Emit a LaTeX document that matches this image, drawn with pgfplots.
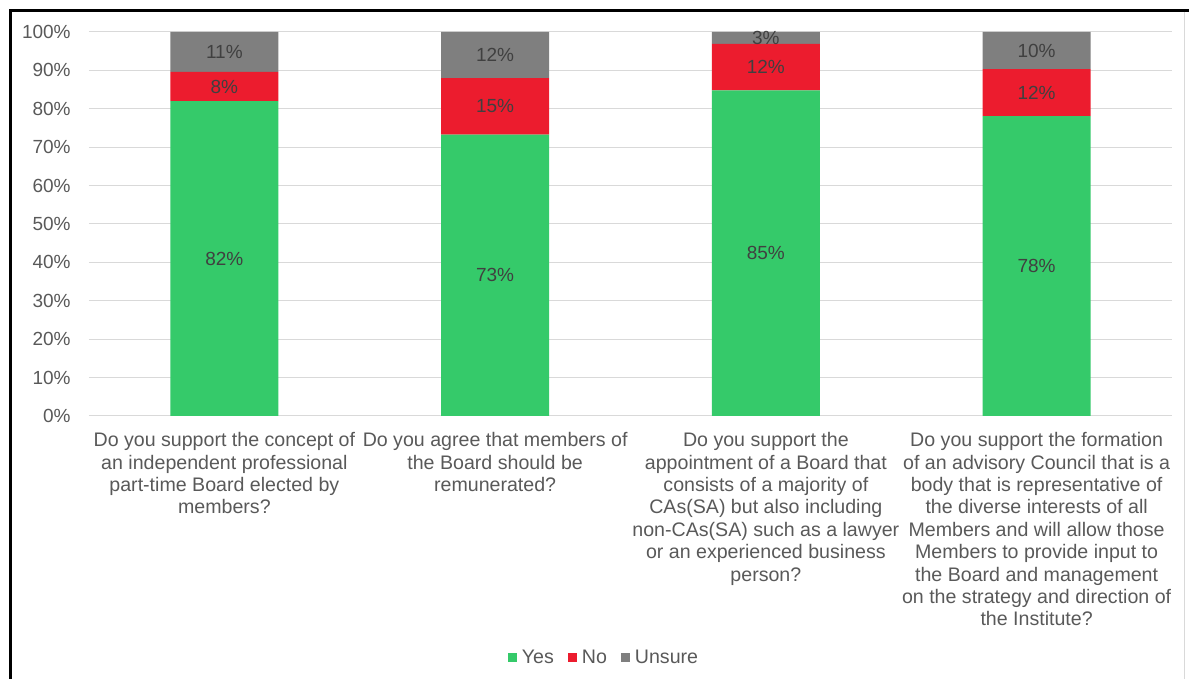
\documentclass[border=0pt]{standalone}
\usepackage{pgfplots}
\pgfplotsset{compat=1.18}
\usepackage{fontspec}
\setmainfont{Liberation Sans}
\definecolor{cyes}{RGB}{53,202,106}
\definecolor{cno}{RGB}{236,28,46}
\definecolor{cuns}{RGB}{127,127,127}
\definecolor{labelgray}{RGB}{89,89,89}
\definecolor{valgray}{RGB}{64,64,64}
\definecolor{gridgray}{RGB}{217,217,217}
\pgfplotstableread{
x yes no uns
0 82.0 7.6 10.4
1 73.3 14.7 12.0
2 84.8 12.1 3.1
3 78.1 12.2 9.7
}\bardata
\pgfplotstableread{
x y label
0 41.0 82\%
1 36.65 73\%
2 42.4 85\%
3 39.05 78\%
0 85.8 8\%
1 80.65 15\%
2 90.85 12\%
3 84.2 12\%
0 94.8 11\%
1 94.0 12\%
2 98.45 3\%
3 95.15 10\%
}\labeldata
\pgfplotsset{
  mylegend/.style={legend image code/.code={\fill[##1,draw=none] (0pt,-2.25pt) rectangle (4.5pt,2.25pt);}},
  common/.style={
    scale only axis, width=541.5pt, height=192pt,
    xmin=-0.5, xmax=3.5, ymin=0, ymax=100,
  }
}
\begin{document}
\begin{tikzpicture}
\useasboundingbox (-44.5pt,-131.5pt) rectangle (550pt,208pt);
\draw[line width=1.5pt, black] (-39.25pt,-131.5pt) -- (-39.25pt,202.75pt) -- (550pt,202.75pt);
\draw[line width=0.5pt, gridgray] (547.5pt,202pt) -- (547.5pt,-131.5pt);
\begin{axis}[common,
  ybar stacked, bar width=54pt,
  axis line style={draw=none},
  major tick length=0pt,
  ymajorgrids, grid style={gridgray, line width=0.5pt},
  extra y ticks={0}, extra y tick labels={}, extra y tick style={grid=major},
  xtick={0,1,2,3},
  xticklabels={
    {Do you support the concept of\\an independent professional\\part-time Board elected by\\members?},
    {Do you agree that members of\\the Board should be\\remunerated?},
    {Do you support the\\appointment of a Board that\\consists of a majority of\\CAs(SA) but also including\\non-CAs(SA) such as a lawyer\\or an experienced business\\person?},
    {Do you support the formation\\of an advisory Council that is a\\body that is representative of\\the diverse interests of all\\Members and will allow those\\Members to provide input to\\the Board and management\\on the strategy and direction of\\the Institute?}
  },
  xticklabel style={align=center, font=\fontsize{9.8}{11.2}\selectfont, text=labelgray, anchor=north, inner sep=0pt, yshift=-8pt},
  ytick={0,10,...,100},
  yticklabels={0\%,10\%,20\%,30\%,40\%,50\%,60\%,70\%,80\%,90\%,100\%},
  yticklabel style={font=\fontsize{9.5}{11}\selectfont, text=labelgray, anchor=east, inner sep=0pt, xshift=-9pt},
  legend style={at={(axis description cs:0.4746,-0.630)}, anchor=center, draw=none, fill=none,
    legend columns=3, font=\fontsize{9.8}{11}\selectfont, text=labelgray,
    nodes={inner sep=0pt, anchor=west},
    /tikz/every odd column/.append style={column sep=2.5pt},
    /tikz/every even column/.append style={column sep=7pt}},
]
\addplot[fill=cyes, draw=none, mylegend] table[x=x, y=yes] {\bardata};
\addplot[fill=cno, draw=none, mylegend] table[x=x, y=no] {\bardata};
\addplot[fill=cuns, draw=none, mylegend] table[x=x, y=uns] {\bardata};
\legend{Yes,No,Unsure}
\end{axis}
\begin{axis}[common, hide axis, clip=false]
\addplot[only marks, mark=none, nodes near coords, point meta=explicit symbolic,
  every node near coord/.append style={anchor=center, inner sep=0pt, font=\fontsize{9.5}{11}\selectfont, text=valgray}]
  table[x=x, y=y, meta=label] {\labeldata};
\end{axis}
\end{tikzpicture}
\end{document}
